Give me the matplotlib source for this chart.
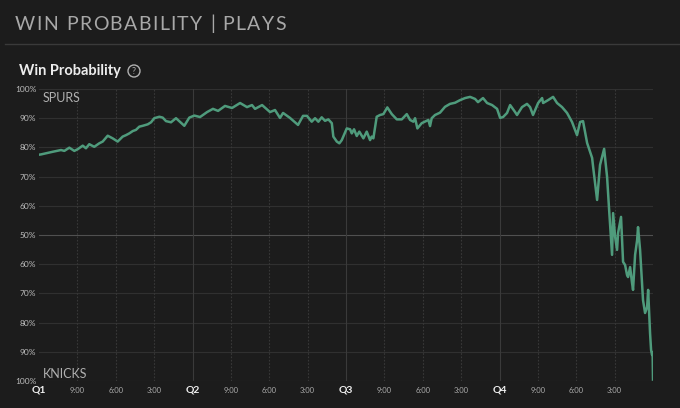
import matplotlib.pyplot as plt
from matplotlib.lines import Line2D
from matplotlib.patches import Ellipse

# game clock in minutes elapsed (0-48) and Spurs win probability (%)
minutes = [0.0, 0.16, 1.07, 1.72, 1.98, 2.37, 2.76, 3.03, 3.42, 3.67, 3.93, 4.32, 4.71, 4.98,
           5.37, 5.76, 6.15, 6.54, 6.80, 7.06, 7.33, 7.58, 7.84, 8.11, 8.50, 8.76, 9.01,
           9.41, 9.67, 9.93, 10.32, 10.71, 11.36, 11.75, 12.14, 12.59, 13.14, 13.60,
           14.00, 14.54, 15.09, 15.72, 16.26, 16.65, 16.89, 17.44, 18.06, 18.45, 18.84,
           19.08, 19.62, 20.25, 20.64, 20.95, 21.32, 21.58, 21.84, 22.10, 22.36, 22.62,
           22.89, 23.01, 23.28, 23.48, 23.67, 24.06, 24.32, 24.45, 24.63, 24.84, 25.04,
           25.36, 25.62, 25.88, 26.01, 26.14, 26.40, 26.66, 26.92, 27.23, 27.58, 27.97,
           28.36, 28.75, 29.01, 29.27, 29.40, 29.58, 29.92, 30.44, 30.57, 30.70, 30.96,
           31.35, 31.74, 32.13, 32.53, 32.92, 33.31, 33.70, 34.09, 34.32, 34.71, 35.03,
           35.42, 35.81, 36.05, 36.28, 36.59, 36.83, 37.22, 37.37, 37.76, 38.15, 38.39,
           38.62, 39.02, 39.33, 39.41, 39.80, 40.19, 40.50, 40.89, 41.28, 41.67, 42.06,
           42.30, 42.53, 42.85, 43.24, 43.32, 43.63, 43.86, 44.18, 44.41, 44.57, 44.80,
           44.88, 45.04, 45.19, 45.27, 45.50, 45.66, 45.82, 45.97, 46.05, 46.21, 46.36,
           46.44, 46.60, 46.76, 46.83, 46.99, 47.22, 47.38, 47.54, 47.62, 47.77, 47.85,
           47.93, 47.97, 48.0]
spurs_wp = [77.5, 77.6, 78.5, 79.1, 78.8, 79.9, 78.8, 79.4, 80.6, 79.7, 81.1, 80.2, 81.4, 82.0,
            84.0, 83.1, 82.0, 83.7, 84.2, 84.8, 85.6, 86.0, 87.1, 87.4, 87.9, 88.6, 90.0,
            90.5, 90.2, 89.0, 88.6, 90.0, 87.4, 90.2, 90.9, 90.4, 92.1, 93.2,
            92.5, 94.2, 93.5, 95.2, 93.8, 94.5, 93.2, 94.5, 92.1, 92.8, 90.1,
            91.8, 90.1, 87.7, 90.8, 90.8, 88.8, 90.0, 88.8, 90.3, 89.1, 89.6,
            88.3, 83.7, 82.0, 81.4, 82.5, 86.5, 86.2, 84.8, 86.2, 83.9, 85.4,
            83.1, 85.4, 82.5, 83.7, 83.1, 90.5, 91.1, 91.4, 93.7, 91.4, 89.6,
            89.6, 91.4, 89.4, 88.8, 90.0, 86.5, 88.3, 89.4, 87.3, 90.0, 91.1,
            91.9, 93.9, 94.9, 95.3, 96.2, 96.9, 97.3, 96.6, 95.5, 96.9, 95.2,
            94.5, 93.2, 90.1, 90.4, 91.8, 94.5, 92.1, 91.1, 93.8, 94.9, 93.8,
            91.1, 95.2, 96.9, 95.2, 96.2, 97.3, 95.2, 93.8, 91.8, 88.7, 84.2,
            88.7, 89.0, 81.5, 76.4, 73.3, 62.0, 74.0, 79.5, 69.9, 58.6, 43.2,
            57.5, 49.3, 44.9, 50.7, 56.2, 40.8, 39.7, 36.3, 35.6, 39.0, 33.6,
            31.2, 43.2, 48.3, 52.7, 44.9, 27.7, 23.3, 25.3, 31.2, 16.4, 10.6,
            8.9, 9.9, 0.5]

quarters = [0, 12, 24, 36]
quarter_labels = ["Q1", "Q2", "Q3", "Q4"]
clock_ticks = [3, 6, 9, 15, 18, 21, 27, 30, 33, 39, 42, 45]
clock_labels = ["9:00", "6:00", "3:00"] * 4
pct_ticks = list(range(0, 101, 10))
pct_labels = [f"{max(p, 100 - p)}%" for p in pct_ticks]

title = "WIN PROBABILITY | PLAYS"

bg = "#1c1c1c"
line_color = "#4f9b7c"
grid_color = "#303030"

fig = plt.figure(figsize=(6.8, 4.08), dpi=100, facecolor=bg)
renderer = fig.canvas.get_renderer()

# header, drawn letter by letter to get the wide tracking
def text_width(s):
    t = fig.text(0, 0, s, fontsize=14, family="Lato")
    w = t.get_window_extent(renderer).width
    t.remove()
    return w

x0, tracking = 15, 1.4
w_ref = text_width("I")
for i, ch in enumerate(title):
    offset = text_width(title[:i] + "I") - w_ref if i else 0
    fig.text((x0 + offset + i * tracking) / 680, 1 - 24 / 408, ch, color="#a8a8a8",
             fontsize=14, family="Lato", va="center", ha="left")

fig.add_artist(Line2D([5 / 680, 1], [1 - 44 / 408] * 2, color="#3a3a3a", lw=1))
fig.text(19 / 680, 1 - 71 / 408, "Win Probability", color="#ececec",
         fontsize=10.5, fontweight="bold", family="Lato", va="center", ha="left")
fig.add_artist(Ellipse((134 / 680, 1 - 71 / 408), 12 / 680, 12 / 408,
                       fill=False, edgecolor="#b0b0b0", lw=1))
fig.text(134 / 680, 1 - 71.5 / 408, "?", color="#b0b0b0", fontsize=6.5,
         family="Lato", va="center", ha="center")

ax = fig.add_axes([39 / 680, 1 - 381 / 408, 614 / 680, 292 / 408])
ax.set_facecolor(bg)
ax.set_xlim(0, 48)
ax.set_ylim(0, 100)

# grid
for p in pct_ticks:
    ax.axhline(p, color="#505050" if p == 50 else grid_color, lw=0.8, zorder=0)
for q in quarters[1:]:
    ax.axvline(q, color="#3a3a3a", lw=0.8, zorder=0)
for c in clock_ticks:
    ax.axvline(c, color="#383838", lw=0.8, ls=(0, (1.5, 1.5)), zorder=0)

ax.plot(minutes, spurs_wp, color=line_color, lw=1.8, solid_joinstyle="round", zorder=3)

for s in ax.spines.values():
    s.set_visible(False)

ax.set_yticks(pct_ticks)
ax.set_yticklabels(pct_labels, fontsize=6, color="#bdbdbd", family="Lato")
ax.set_xticks(quarters)
ax.set_xticklabels(quarter_labels, fontsize=7.5, color="#f0f0f0", fontweight="bold",
                   family="Lato")
ax.set_xticks(clock_ticks, minor=True)
ax.set_xticklabels(clock_labels, minor=True, fontsize=5.5, color="#a8a8a8", family="Lato")
ax.tick_params(axis="both", which="both", length=0)
ax.tick_params(axis="y", pad=2)
ax.tick_params(axis="x", which="major", pad=3)
ax.tick_params(axis="x", which="minor", pad=4.5)

ax.text(0.3, 97, "SPURS", color="#b0b0b0", fontsize=9, family="Lato", va="center")
ax.text(0.3, 2.5, "KNICKS", color="#b0b0b0", fontsize=9, family="Lato", va="center")

fig.savefig("out.png", dpi=100, facecolor=bg)
